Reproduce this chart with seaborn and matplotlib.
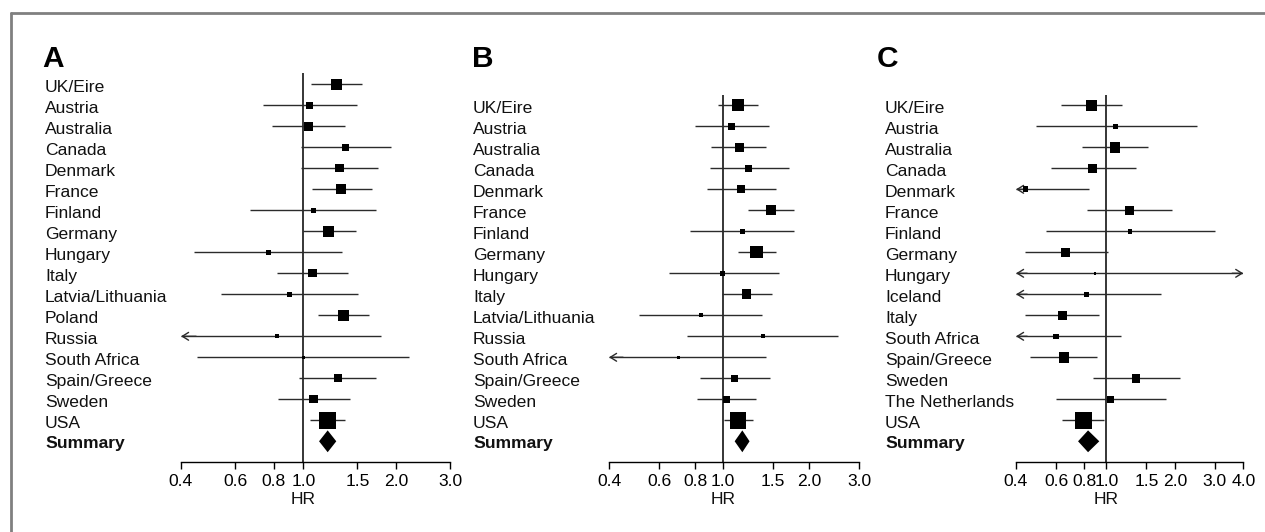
import numpy as np
import pandas as pd
import matplotlib
matplotlib.use("Agg")
import matplotlib.pyplot as plt
import matplotlib.transforms as mtransforms
from matplotlib.lines import Line2D
from matplotlib.ticker import NullLocator, FixedLocator, FixedFormatter
import seaborn as sns

# ---------------- data ----------------
countries_a = ["UK/Eire", "Austria", "Australia", "Canada", "Denmark", "France", "Finland",
               "Germany", "Hungary", "Italy", "Latvia/Lithuania", "Poland", "Russia",
               "South Africa", "Spain/Greece", "Sweden", "USA"]
hr_a = [1.28, 1.05, 1.04, 1.37, 1.31, 1.33, 1.08, 1.21, 0.77, 1.07, 0.90, 1.35, 0.82, 1.00, 1.30, 1.08, 1.20]
lo_a = [1.06, 0.74, 0.79, 0.98, 0.98, 1.07, 0.67, 1.00, 0.44, 0.82, 0.54, 1.12, 0.30, 0.45, 0.97, 0.83, 1.05]
hi_a = [1.55, 1.49, 1.37, 1.93, 1.75, 1.67, 1.72, 1.48, 1.34, 1.40, 1.51, 1.64, 1.79, 2.21, 1.72, 1.42, 1.37]
w_a = [11, 7, 9, 7, 8.3, 10, 5, 11, 4.7, 8.3, 5, 11.5, 4, 3, 8, 8.3, 16.7]
summary_a = (1.20, 1.125, 1.28)

countries_b = ["UK/Eire", "Austria", "Australia", "Canada", "Denmark", "France", "Finland",
               "Germany", "Hungary", "Italy", "Latvia/Lithuania", "Russia", "South Africa",
               "Spain/Greece", "Sweden", "USA"]
hr_b = [1.13, 1.07, 1.14, 1.23, 1.16, 1.47, 1.17, 1.31, 1.00, 1.21, 0.84, 1.38, 0.70, 1.10, 1.03, 1.13]
lo_b = [0.96, 0.80, 0.91, 0.90, 0.88, 1.22, 0.77, 1.13, 0.65, 0.99, 0.51, 0.75, 0.30, 0.83, 0.81, 1.01]
hi_b = [1.33, 1.45, 1.42, 1.70, 1.54, 1.77, 1.77, 1.53, 1.57, 1.49, 1.37, 2.53, 1.42, 1.46, 1.31, 1.27]
w_b = [12, 6.7, 9, 6.8, 8, 10.3, 5, 12.3, 4.7, 9.7, 4.3, 4, 3.3, 7, 7.3, 16.7]
summary_b = (1.17, 1.10, 1.24)

countries_c = ["UK/Eire", "Austria", "Australia", "Canada", "Denmark", "France", "Finland",
               "Germany", "Hungary", "Iceland", "Italy", "South Africa", "Spain/Greece",
               "Sweden", "The Netherlands", "USA"]
hr_c = [0.86, 1.10, 1.09, 0.87, 0.44, 1.26, 1.27, 0.66, 0.89, 0.82, 0.64, 0.60, 0.65, 1.35, 1.04, 0.79]
lo_c = [0.63, 0.49, 0.78, 0.57, 0.30, 0.82, 0.54, 0.44, 0.30, 0.30, 0.44, 0.30, 0.46, 0.87, 0.60, 0.64]
hi_c = [1.17, 2.50, 1.53, 1.35, 0.84, 1.94, 3.00, 1.02, 5.00, 1.74, 0.93, 1.16, 0.91, 2.11, 1.82, 0.98]
w_c = [11.3, 5, 10.7, 8.7, 5.7, 8.8, 4.7, 8.6, 2.7, 5.1, 9.3, 5.6, 10.6, 8.5, 7, 16.8]
summary_c = (0.83, 0.75, 0.93)

ticks_ab = [0.4, 0.6, 0.8, 1.0, 1.5, 2.0, 3.0]
ticks_c = [0.4, 0.6, 0.8, 1.0, 1.5, 2.0, 3.0, 4.0]
tick_labels_ab = ["0.4", "0.6", "0.8", "1.0", "1.5", "2.0", "3.0"]
tick_labels_c = ["0.4", "0.6", "0.8", "1.0", "1.5", "2.0", "3.0", "4.0"]

# ---------------- style ----------------
sns.set_theme(style="white")
plt.rcParams["font.family"] = ["Liberation Sans", "DejaVu Sans"]

W, H = 1265, 532
fig = plt.figure(figsize=(W / 100, H / 100), dpi=100)

ROW = 21.0       # px per row
SPINE_Y = 462.0  # px of x axis
LINE_C = "#2b2b2b"
FS = 12.6


def panel(letter, countries, hr, lo, hi, w, summ, ticks, tlabels,
          x_left, x_right, top_px, row0_px, label_x, letter_x):
    axh = SPINE_Y - top_px
    ax = fig.add_axes([x_left / W, (H - SPINE_Y) / H, (x_right - x_left) / W, axh / H])
    xmin, xmax = ticks[0], ticks[-1]
    ax.set_xscale("log")
    ax.set_xlim(xmin, xmax)
    y_top = (top_px - row0_px) / ROW
    y_bot = (SPINE_Y - row0_px) / ROW
    ax.set_ylim(y_bot, y_top)

    n = len(countries)
    rows = np.arange(n)
    df = pd.DataFrame({"country": countries, "hr": hr, "lo": lo, "hi": hi,
                       "row": rows, "s": (np.array(w) * 0.72) ** 2})

    # reference line at 1
    ax.axvline(1.0, color="black", lw=1.1, zorder=1)

    # CIs
    for _, r in df.iterrows():
        a = max(r.lo, xmin)
        b = min(r.hi, xmax)
        ax.plot([a, b], [r.row, r.row], color=LINE_C, lw=1.0, zorder=2,
                solid_capstyle="butt")
        arrow = dict(arrowstyle="->,head_length=0.45,head_width=0.28", lw=1.0,
                     color=LINE_C, shrinkA=0, shrinkB=0, mutation_scale=10)
        if r.lo < xmin:
            ax.annotate("", xy=(xmin, r.row), xytext=(xmin * 1.12, r.row),
                        arrowprops=arrow, annotation_clip=False)
        if r.hi > xmax:
            ax.annotate("", xy=(xmax, r.row), xytext=(xmax / 1.12, r.row),
                        arrowprops=arrow, annotation_clip=False)

    # squares
    smin, smax = df.s.min(), df.s.max()
    sns.scatterplot(data=df, x="hr", y="row", size="s", sizes=(smin, smax),
                    size_norm=(smin, smax), marker="s", color="black",
                    linewidth=0, legend=False, ax=ax, zorder=3)

    # summary diamond
    sy = n
    ax.fill([summ[1], summ[0], summ[2], summ[0]], [sy, sy - 0.52, sy, sy + 0.52],
            color="black", lw=0, zorder=3)

    # axes cosmetics
    for s in ["left", "right", "top"]:
        ax.spines[s].set_visible(False)
    ax.spines["bottom"].set_color("black")
    ax.spines["bottom"].set_linewidth(1.0)
    ax.xaxis.set_major_locator(FixedLocator(ticks))
    ax.xaxis.set_major_formatter(FixedFormatter(tlabels))
    ax.xaxis.set_minor_locator(NullLocator())
    ax.set_yticks([])
    ax.set_xlabel("")
    ax.set_ylabel("")
    ax.tick_params(axis="x", direction="out", length=4.7, width=1.0, pad=3.8,
                   labelsize=FS, colors="black", bottom=True)
    ax.grid(False)
    ax.patch.set_alpha(0)

    # country labels
    tr = mtransforms.blended_transform_factory(fig.transFigure, ax.transData)
    for i, c in enumerate(countries):
        ax.text(label_x / W, i + 0.36, c, transform=tr, fontsize=FS,
                va="baseline", ha="left", color="#111111")
    ax.text(label_x / W, n + 0.34, "Summary", transform=tr, fontsize=FS,
            fontweight="bold", va="baseline", ha="left", color="#111111")

    # HR label
    tr2 = mtransforms.blended_transform_factory(ax.transData, fig.transFigure)
    ax.text(1.0, 1 - 504 / H, "HR", transform=tr2, fontsize=FS, ha="center",
            va="baseline", color="#111111")

    fig.text(letter_x / W, 1 - 67 / H, letter, fontsize=21.5, fontweight="bold",
             va="baseline", ha="left", color="black")
    return ax


panel("A", countries_a, hr_a, lo_a, hi_a, w_a, summary_a, ticks_ab, tick_labels_ab,
      181, 450, 73, 84.3, 45, 42)
panel("B", countries_b, hr_b, lo_b, hi_b, w_b, summary_b, ticks_ab, tick_labels_ab,
      609, 859.3, 95, 105.3, 473, 472.5)
panel("C", countries_c, hr_c, lo_c, hi_c, w_c, summary_c, ticks_c, tick_labels_c,
      1016, 1243.3, 95, 105.3, 885, 877)

# grey frame (top and left)
fig.add_artist(Line2D([11 / W, 1], [1 - 13 / H, 1 - 13 / H], color="#808080", lw=2.0))
fig.add_artist(Line2D([11 / W, 11 / W], [0, 1 - 13 / H], color="#808080", lw=2.0))

fig.savefig("out.png", dpi=100)
